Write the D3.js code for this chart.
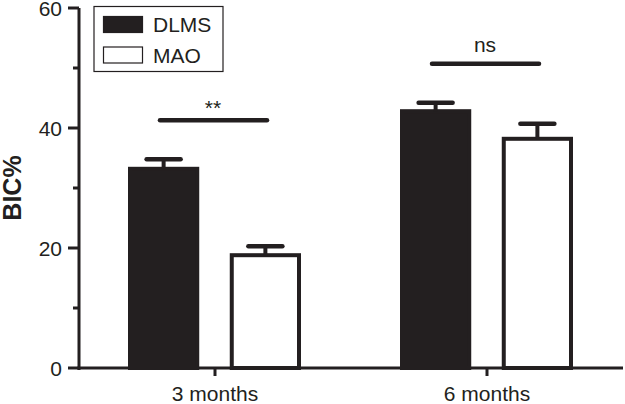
<!DOCTYPE html>
<html><head><meta charset="utf-8">
<script src="https://cdn.jsdelivr.net/npm/d3@7"></script>
<style>body{margin:0;background:#fff}svg{display:block}</style>
</head><body>
<svg id="c" width="625" height="404"></svg>
<script>
const categories = ["3 months", "6 months"];
const seriesNames = ["DLMS", "MAO"];
const dlmsValues = [33.2, 42.8];
const dlmsErrors = [1.6, 1.4];
const maoValues = [18.8, 38.2];
const maoErrors = [1.5, 2.5];
const sigLabels = ["**", "ns"];
const sigLevels = [41.3, 50.7];
const yTicks = [0, 20, 40, 60];
const yMinorTicks = [10, 30, 50];

const ink = "#231f20";
const svg = d3.select("#c");
const mLeft = 79, mRight = 623, mTop = 8, mBottom = 368;
const x = d3.scaleBand().domain(categories).range([mLeft, mRight]);
const y = d3.scaleLinear().domain([0, 60]).range([mBottom, mTop]);
const sub = d3.scaleBand().domain(seriesNames).range([0, 173]).paddingInner(0.3);
const font = "'Liberation Sans', Arial, sans-serif";

// axes
const yAxis = svg.append("g").attr("transform", `translate(${mLeft},0)`);
yAxis.append("line").attr("x1",0).attr("x2",0).attr("y1",y(60)).attr("y2",y(0)+2).attr("stroke",ink).attr("stroke-width",3);
yAxis.selectAll(".maj").data(yTicks).join("line").attr("class","maj").attr("x1",-11).attr("x2",0)
  .attr("y1",d=>y(d)).attr("y2",d=>y(d)).attr("stroke",ink).attr("stroke-width",3);
yAxis.selectAll(".min").data(yMinorTicks).join("line").attr("class","min").attr("x1",-6).attr("x2",0)
  .attr("y1",d=>y(d)).attr("y2",d=>y(d)).attr("stroke",ink).attr("stroke-width",3);
yAxis.selectAll(".yl").data(yTicks).join("text").attr("class","yl").attr("x",-17).attr("y",d=>y(d)+7.5)
  .attr("text-anchor","end").attr("font-family",font).attr("font-size",21).attr("fill",ink).text(d=>d);

svg.append("line").attr("x1",mLeft-1.5).attr("x2",mRight).attr("y1",mBottom).attr("y2",mBottom).attr("stroke",ink).attr("stroke-width",3);
svg.selectAll(".xt").data(categories).join("line").attr("class","xt")
  .attr("x1",d=>x(d)+x.bandwidth()/2).attr("x2",d=>x(d)+x.bandwidth()/2)
  .attr("y1",mBottom).attr("y2",mBottom+8).attr("stroke",ink).attr("stroke-width",3);
svg.selectAll(".xl").data(categories).join("text").attr("class","xl")
  .attr("x",d=>x(d)+x.bandwidth()/2).attr("y",mBottom+33).attr("text-anchor","middle")
  .attr("font-family",font).attr("font-size",21).attr("fill",ink).text(d=>d);

svg.append("text").attr("transform",`translate(21,${(y(0)+y(60))/2}) rotate(-90)`)
  .attr("text-anchor","middle").attr("font-family",font).attr("font-size",25).attr("font-weight","bold")
  .attr("fill",ink).text("BIC%");

// bars
const groupStart = c => x(c) + x.bandwidth()/2 - 87;
const data = [];
categories.forEach((c,i)=>{
  data.push({c, s:"DLMS", v:dlmsValues[i], e:dlmsErrors[i]});
  data.push({c, s:"MAO", v:maoValues[i], e:maoErrors[i]});
});
const bw = sub.bandwidth();
svg.selectAll(".bar").data(data).join("rect").attr("class","bar")
  .attr("x",d=>groupStart(d.c)+sub(d.s)+2).attr("width",bw-4)
  .attr("y",d=>y(d.v)).attr("height",d=>y(0)-y(d.v))
  .attr("fill",d=>d.s==="DLMS"?ink:"#fff").attr("stroke",ink).attr("stroke-width",4);
svg.selectAll(".ev").data(data).join("line").attr("class","ev")
  .attr("x1",d=>groupStart(d.c)+sub(d.s)+bw/2).attr("x2",d=>groupStart(d.c)+sub(d.s)+bw/2)
  .attr("y1",d=>y(d.v)).attr("y2",d=>y(d.v+d.e)).attr("stroke",ink).attr("stroke-width",4);
svg.selectAll(".ec").data(data).join("line").attr("class","ec")
  .attr("x1",d=>groupStart(d.c)+sub(d.s)+bw/2-17).attr("x2",d=>groupStart(d.c)+sub(d.s)+bw/2+17)
  .attr("y1",d=>y(d.v+d.e)).attr("y2",d=>y(d.v+d.e)).attr("stroke",ink).attr("stroke-width",4.5).attr("stroke-linecap","round");

// significance
categories.forEach((c,i)=>{
  const cx = x(c)+x.bandwidth()/2;
  svg.append("line").attr("x1",cx-55).attr("x2",cx+52).attr("y1",y(sigLevels[i])).attr("y2",y(sigLevels[i]))
    .attr("stroke",ink).attr("stroke-width",4.5).attr("stroke-linecap","round");
  svg.append("text").attr("x",cx-2).attr("y",y(sigLevels[i])-(i===0?5:12)).attr("text-anchor","middle")
    .attr("font-family",font).attr("font-size",21).attr("fill",ink).text(sigLabels[i]);
});

// legend
const lg = svg.append("g");
lg.append("rect").attr("x",94).attr("y",6.5).attr("width",129).attr("height",65).attr("fill","#fff").attr("stroke",ink).attr("stroke-width",1.2);
seriesNames.forEach((s,i)=>{
  lg.append("rect").attr("x",103.5).attr("y",16.5+i*30.5).attr("width",39).attr("height",16)
    .attr("fill",i===0?ink:"#fff").attr("stroke",ink).attr("stroke-width",1.2);
  lg.append("text").attr("x",153).attr("y",32+i*30.5).attr("font-family",font).attr("font-size",21)
    .attr("fill",ink).text(s);
});
</script>
</body></html>
